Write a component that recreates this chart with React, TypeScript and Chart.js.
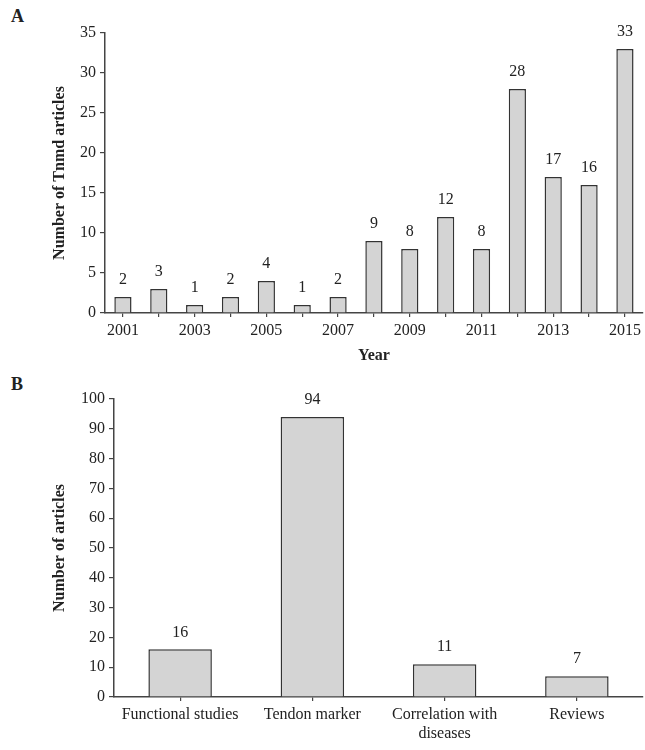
import React, { useEffect, useRef } from "react";
import { Chart, registerables } from "chart.js";

Chart.register(...registerables);

const yearLabels = ["2001","2002","2003","2004","2005","2006","2007","2008","2009","2010","2011","2012","2013","2014","2015"];
const yearCounts = [2, 3, 1, 2, 4, 1, 2, 9, 8, 12, 8, 28, 17, 16, 33];
const typeLabels: (string | string[])[] = ["Functional studies", "Tendon marker", ["Correlation with", "diseases"], "Reviews"];
const typeCounts = [16, 94, 11, 7];

const FONT = "'Liberation Serif', 'Times New Roman', serif";
const TXT = "#222";
const AX = "#444";

const valueLabels = {
  id: "valueLabels",
  afterDatasetsDraw(chart: any) {
    const ctx = chart.ctx;
    const meta = chart.getDatasetMeta(0);
    const data = chart.data.datasets[0].data;
    ctx.save();
    ctx.font = `16px ${FONT}`;
    ctx.fillStyle = TXT;
    ctx.textAlign = "center";
    ctx.textBaseline = "middle";
    meta.data.forEach((el: any, i: number) => {
      ctx.fillText(String(data[i]), el.x, el.y - 17);
    });
    ctx.restore();
  },
};

function makeChart(
  canvas: HTMLCanvasElement,
  labels: any[],
  values: number[],
  opts: { yMax: number; yStep: number; yWidth: number; xHeight: number; top: number; yTitle: string; yTitleOffset: number; xTitle?: string; everyOther?: boolean }
) {
  return new Chart(canvas, {
    type: "bar",
    data: {
      labels,
      datasets: [
        {
          data: values,
          backgroundColor: "#d4d4d4",
          borderColor: "#333",
          borderWidth: 1.5,
          categoryPercentage: 1,
          barPercentage: 0.48,
        },
      ],
    },
    options: {
      animation: false,
      responsive: false,
      maintainAspectRatio: false,
      layout: { padding: { top: opts.top, right: 2, left: 0, bottom: 0 } },
      plugins: { legend: { display: false }, tooltip: { enabled: false } },
      scales: {
        x: {
          offset: true,
          grid: { display: true, offset: false, drawOnChartArea: false, drawTicks: true, tickLength: 4, color: AX, lineWidth: 1.2 },
          border: { display: true, color: AX, width: 1.5 },
          ticks: {
            color: TXT,
            font: { family: FONT, size: 16 },
            maxRotation: 0,
            autoSkip: false,
            padding: 4,
            callback: function (this: any, _v: any, i: number) {
              const l = this.getLabelForValue(i);
              if (opts.everyOther) return i % 2 === 0 ? l : "";
              return labels[i];
            },
          },
          title: opts.xTitle
            ? { display: true, text: opts.xTitle, color: TXT, font: { family: FONT, size: 16, weight: "bold" }, padding: { top: 0, bottom: 5 } }
            : { display: false },
          afterFit: (s: any) => { s.height = opts.xHeight; },
        },
        y: {
          min: 0,
          max: opts.yMax,
          grid: { display: true, drawOnChartArea: false, drawTicks: true, tickLength: 5, color: AX, lineWidth: 1.2 },
          border: { display: true, color: AX, width: 1.5 },
          ticks: { stepSize: opts.yStep, color: TXT, font: { family: FONT, size: 16 }, padding: 4 },
          title: { display: true, text: opts.yTitle, color: TXT, font: { family: FONT, size: 16, weight: "bold" }, padding: { top: opts.yTitleOffset, bottom: 0 } },
          afterFit: (s: any) => { s.width = opts.yWidth; },
        },
      },
    },
    plugins: [valueLabels],
  } as any);
}

export default function App() {
  const aRef = useRef<HTMLCanvasElement>(null);
  const bRef = useRef<HTMLCanvasElement>(null);

  useEffect(() => {
    document.body.style.margin = "0";
    const a = makeChart(aRef.current!, yearLabels, yearCounts, {
      yMax: 35, yStep: 5, yWidth: 105, xHeight: 57, top: 33,
      yTitle: "Number of Tnmd articles", yTitleOffset: 50, xTitle: "Year", everyOther: true,
    });
    const b = makeChart(bRef.current!, typeLabels, typeCounts, {
      yMax: 100, yStep: 10, yWidth: 114, xHeight: 53, top: 29,
      yTitle: "Number of articles", yTitleOffset: 50,
    });
    return () => { a.destroy(); b.destroy(); };
  }, []);

  const letter: React.CSSProperties = {
    position: "absolute", left: 11, fontFamily: FONT, fontWeight: "bold", fontSize: 18, color: TXT, lineHeight: "20px",
  };

  return (
    <div style={{ position: "relative", width: 645, height: 750, background: "#fff" }}>
      <div style={{ ...letter, top: 6 }}>A</div>
      <div style={{ ...letter, top: 374 }}>B</div>
      <canvas ref={aRef} width={645} height={370} style={{ position: "absolute", left: 0, top: 0 }} />
      <canvas ref={bRef} width={645} height={380} style={{ position: "absolute", left: 0, top: 370 }} />
    </div>
  );
}
